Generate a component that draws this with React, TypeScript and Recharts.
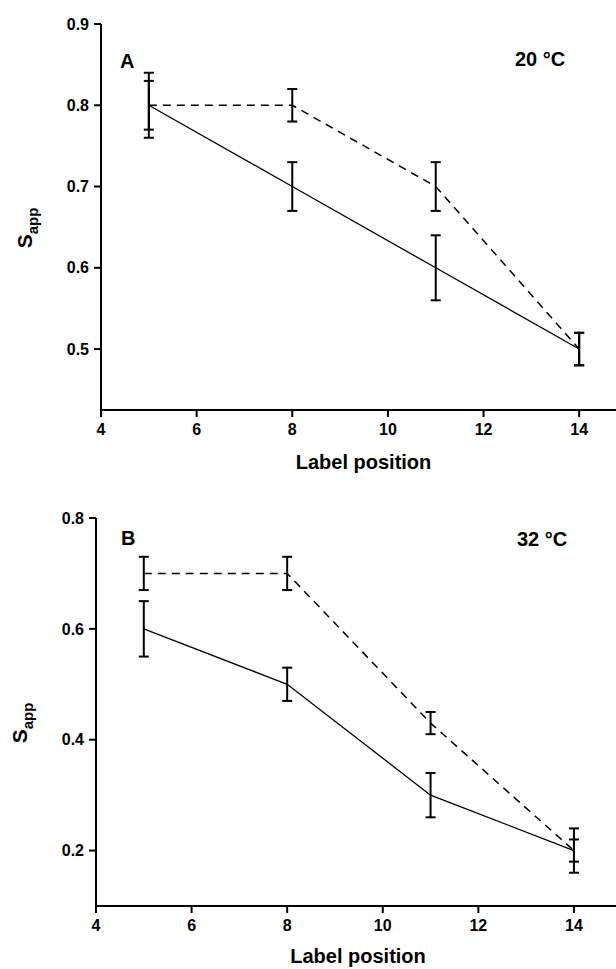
import React from 'react';
import { LineChart, Line, XAxis, YAxis, ErrorBar, Label } from 'recharts';

const positions = [5, 8, 11, 14];
const xTicks = [4, 6, 8, 10, 12, 14];

// panel A, 20 °C
const solidA = [0.8, 0.7, 0.6, 0.5];
const solidErrA = [0.04, 0.03, 0.04, 0.02];
const dashedA = [0.8, 0.8, 0.7, 0.5];
const dashedErrA = [0.03, 0.02, 0.03, 0.02];
const yTicksA = [0.5, 0.6, 0.7, 0.8, 0.9];

// panel B, 32 °C
const solidB = [0.6, 0.5, 0.3, 0.2];
const solidErrB = [0.05, 0.03, 0.04, 0.04];
const dashedB = [0.7, 0.7, 0.43, 0.2];
const dashedErrB = [0.03, 0.03, 0.02, 0.02];
const yTicksB = [0.2, 0.4, 0.6, 0.8];

const font = '"Liberation Sans", Arial, sans-serif';

const buildRows = (solid: number[], solidErr: number[], dashed: number[], dashedErr: number[]) =>
  positions.map((x, i) => ({
    x,
    solid: solid[i],
    solidErr: solidErr[i],
    dashed: dashed[i],
    dashedErr: dashedErr[i],
  }));

interface PanelProps {
  rows: any[];
  top: number;
  height: number;
  marginTop: number;
  axisWidth: number;
  xAxisHeight: number;
  xMax: number;
  yDomain: [number, number];
  yTicks: number[];
  labelOffset: number;
  labelDx: number;
  letter: string;
  temp: string;
  yLabelX: number;
  yLabelY: number;
  letterX: number;
  letterY: number;
  tempX: number;
  tempY: number;
}

const Panel: React.FC<PanelProps> = (p) => {
  const annotations = () => (
    <g fontFamily={font} fill="#000">
      <text
        x={p.yLabelX}
        y={p.yLabelY}
        textAnchor="middle"
        transform={`rotate(-90, ${p.yLabelX}, ${p.yLabelY})`}
        fontWeight="bold"
        fontSize={21}
      >
        S<tspan dy={6} fontSize={15}>app</tspan>
      </text>
      <text x={p.letterX} y={p.letterY} fontWeight="bold" fontSize={20}>
        {p.letter}
      </text>
      <text x={p.tempX} y={p.tempY} fontWeight="bold" fontSize={20}>
        {p.temp}
      </text>
    </g>
  );

  return (
    <div style={{ position: 'absolute', left: 0, top: p.top }}>
      <LineChart
        width={616}
        height={p.height}
        data={p.rows}
        margin={{ top: p.marginTop, right: 0, left: 0, bottom: 0 }}
      >
        <XAxis
          type="number"
          dataKey="x"
          domain={[4, p.xMax]}
          ticks={xTicks}
          height={p.xAxisHeight}
          axisLine={{ stroke: '#000', strokeWidth: 2 }}
          tickLine={{ stroke: '#000', strokeWidth: 2 }}
          tickSize={7}
          tickMargin={7}
          tick={{ fill: '#000', fontSize: 16, fontWeight: 'bold', fontFamily: font }}
        >
          <Label
            value="Label position"
            position="insideBottom"
            offset={p.labelOffset}
            dx={p.labelDx}
            fill="#000"
            fontSize={20}
            fontWeight="bold"
            fontFamily={font}
          />
        </XAxis>
        <YAxis
          type="number"
          domain={p.yDomain}
          ticks={p.yTicks}
          width={p.axisWidth}
          allowDataOverflow
          axisLine={{ stroke: '#000', strokeWidth: 2 }}
          tickLine={{ stroke: '#000', strokeWidth: 2 }}
          tickSize={7}
          tickMargin={5}
          tickFormatter={(v: number) => v.toFixed(1)}
          tick={{ fill: '#000', fontSize: 16, fontWeight: 'bold', fontFamily: font }}
        >
          <Label content={annotations} />
        </YAxis>
        <Line
          type="linear"
          dataKey="dashed"
          stroke="#000"
          strokeWidth={1.5}
          strokeDasharray="8 6"
          dot={false}
          isAnimationActive={false}
        >
          <ErrorBar dataKey="dashedErr" width={5} stroke="#000" strokeWidth={2} strokeDasharray="0" direction="y" />
        </Line>
        <Line
          type="linear"
          dataKey="solid"
          stroke="#000"
          strokeWidth={1.3}
          dot={false}
          isAnimationActive={false}
        >
          <ErrorBar dataKey="solidErr" width={5} stroke="#000" strokeWidth={2} direction="y" />
        </Line>
      </LineChart>
    </div>
  );
};

export default function App() {
  return (
    <div style={{ position: 'absolute', left: 0, top: 0, width: 616, height: 969, background: '#fff' }}>
      <Panel
        rows={buildRows(solidA, solidErrA, dashedA, dashedErrA)}
        top={0}
        height={480}
        marginTop={24}
        axisWidth={101}
        xAxisHeight={70}
        xMax={14.77}
        yDomain={[0.425, 0.9]}
        yTicks={yTicksA}
        labelOffset={11}
        labelDx={5}
        letter="A"
        temp="20 °C"
        yLabelX={32}
        yLabelY={228}
        letterX={120}
        letterY={68}
        tempX={515}
        tempY={66}
      />
      <Panel
        rows={buildRows(solidB, solidErrB, dashedB, dashedErrB)}
        top={480}
        height={489}
        marginTop={38}
        axisWidth={96}
        xAxisHeight={63}
        xMax={14.88}
        yDomain={[0.1, 0.8]}
        yTicks={yTicksB}
        labelOffset={6}
        labelDx={2}
        letter="B"
        temp="32 °C"
        yLabelX={27}
        yLabelY={243}
        letterX={121}
        letterY={65}
        tempX={517}
        tempY={66}
      />
    </div>
  );
}
